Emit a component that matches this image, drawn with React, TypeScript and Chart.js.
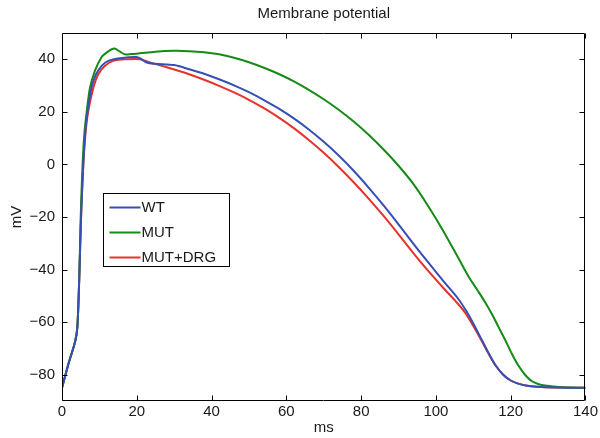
import React, { useEffect, useRef } from 'react';
import { Chart, registerables } from 'chart.js';

Chart.register(...registerables);

const chartTitle = 'Membrane potential';
const xAxisTitle = 'ms';
const yAxisTitle = 'mV';
const xTicks = [0, 20, 40, 60, 80, 100, 120, 140];
const yTicks = [-80, -60, -40, -20, 0, 20, 40];
const seriesNames = ['WT', 'MUT', 'MUT+DRG'];
const seriesColors = ['#3450b4', '#168a17', '#e6322a'];

const wtX = [0, 1.7, 3.5, 4.1, 4.6, 5.1, 5.7, 6.2, 6.8, 7.9, 9.1, 10.6, 12.4, 15.5, 19.9, 21.3, 22.6, 25, 30, 34, 38, 42, 46, 50, 54, 58, 62, 66, 70, 74, 78, 82, 86, 90, 94, 98, 102, 106, 108, 110, 112, 114, 116, 118, 120, 122, 124, 127, 132, 140];
const wtY = [-85, -76, -67.5, -62, -44, -20, 0, 12, 20, 29.3, 34.3, 37.5, 39.4, 40.4, 40.9, 40, 38.8, 38.3, 37.8, 36.2, 34.5, 32.4, 30.1, 27.5, 24.5, 21.2, 17.5, 13.3, 8.6, 3.4, -2.4, -8.8, -15.6, -22.8, -30.2, -37.4, -44.4, -51.2, -55.5, -60.5, -66, -71.5, -76.5, -80, -82.2, -83.4, -84.1, -84.6, -84.9, -85];

const mutX = [0, 1.7, 3.5, 4.1, 4.6, 5.0, 5.5, 6.0, 6.6, 7.5, 8.8, 10.6, 11.9, 13, 14.1, 15.5, 16.8, 18.5, 20.8, 25, 30, 34, 38, 42, 46, 50, 54, 58, 62, 66, 70, 74, 78, 82, 86, 90, 94, 98, 102, 106, 108.8, 111, 113.2, 115, 116.8, 118.6, 120.3, 122.1, 124, 125.7, 127.5, 129.2, 133, 140];
const mutY = [-85, -76, -67.5, -62, -44, -20, 0, 12, 20, 29.3, 35.6, 40.9, 42.5, 43.6, 44.1, 42.9, 41.9, 42, 42.3, 42.9, 43.2, 43.1, 42.7, 41.9, 40.6, 38.9, 36.8, 34.4, 31.6, 28.4, 24.8, 20.8, 16.3, 11.3, 5.7, -0.5, -7.5, -16, -25.4, -35.6, -42.8, -47.6, -52.5, -57, -62, -67, -72, -76.6, -80.3, -82.5, -83.6, -84.1, -84.7, -85];

const drgX = [0, 1.7, 3.5, 4.1, 4.6, 5.1, 5.7, 6.3, 7.0, 8.4, 9.7, 11.5, 13.7, 17.3, 20.8, 23.5, 26.5, 30, 34, 38, 42, 46, 50, 54, 58, 62, 66, 70, 74, 78, 82, 86, 90, 94, 98, 102, 106, 108, 110, 112, 114, 116, 118, 120, 122, 124, 127, 132, 140];
const drgY = [-85, -76, -67.5, -62, -44, -20, 0, 12, 20, 29.3, 34.3, 37.5, 39.4, 40, 40, 38.8, 37.6, 36.1, 34.3, 32.2, 29.9, 27.4, 24.6, 21.4, 17.8, 13.8, 9.3, 4.4, -1, -6.8, -13, -19.6, -26.6, -33.8, -40.6, -47, -53.2, -56.8, -61.5, -66.5, -71.8, -76.6, -80, -82.2, -83.4, -84.1, -84.6, -84.9, -85];

const seriesX = [wtX, mutX, drgX];
const seriesY = [wtY, mutY, drgY];

const FONT = "'Liberation Sans', Arial, Helvetica, sans-serif";
const TEXT = '#1a1a1a';
const FS = 15;

const decoPlugin = {
  id: 'deco',
  afterDraw(chart: any) {
    const { ctx, chartArea: a, scales } = chart;
    const xs = scales.x;
    const ys = scales.y;
    ctx.save();
    ctx.strokeStyle = '#000';
    ctx.lineWidth = 1;
    const L = Math.round(a.left) + 0.5;
    const R = Math.round(a.right) - 0.5;
    const T = Math.round(a.top) + 0.5;
    const B = Math.round(a.bottom) - 0.5;
    ctx.beginPath();
    ctx.rect(L, T, R - L, B - T);
    ctx.stroke();
    const tl = 5;
    ctx.beginPath();
    xTicks.forEach((v) => {
      const p = Math.round(xs.getPixelForValue(v)) + 0.5;
      ctx.moveTo(p, B);
      ctx.lineTo(p, B - tl);
      ctx.moveTo(p, T);
      ctx.lineTo(p, T + tl);
    });
    yTicks.forEach((v) => {
      const p = Math.round(ys.getPixelForValue(v)) + 0.5;
      ctx.moveTo(L, p);
      ctx.lineTo(L + tl, p);
      ctx.moveTo(R, p);
      ctx.lineTo(R - tl, p);
    });
    ctx.stroke();

    // titles
    ctx.fillStyle = TEXT;
    ctx.font = `${FS}px ${FONT}`;
    ctx.textAlign = 'center';
    ctx.textBaseline = 'middle';
    const cx = (a.left + a.right) / 2;
    ctx.fillText(chartTitle, cx, 14);
    ctx.fillText(xAxisTitle, cx, 428);
    ctx.save();
    ctx.translate(17, (a.top + a.bottom) / 2);
    ctx.rotate(-Math.PI / 2);
    ctx.fillText(yAxisTitle, 0, 0);
    ctx.restore();

    // legend
    const bx = Math.round(a.left) + 41 + 0.5;
    const by = Math.round(a.top) + 160 + 0.5;
    const bw = 126;
    const bh = 73;
    ctx.fillStyle = '#fff';
    ctx.fillRect(bx, by, bw, bh);
    ctx.strokeStyle = '#000';
    ctx.lineWidth = 1;
    ctx.strokeRect(bx, by, bw, bh);
    ctx.textAlign = 'left';
    seriesNames.forEach((name, i) => {
      const yy = by + 14 + i * 25;
      ctx.strokeStyle = seriesColors[i];
      ctx.lineWidth = 2;
      ctx.beginPath();
      ctx.moveTo(bx + 6, yy);
      ctx.lineTo(bx + 37, yy);
      ctx.stroke();
      ctx.fillStyle = TEXT;
      ctx.fillText(name, bx + 38, yy);
    });
    ctx.restore();
  },
};

export default function App() {
  const ref = useRef<HTMLCanvasElement>(null);
  useEffect(() => {
    if (!ref.current) return;
    const chart = new Chart(ref.current, {
      type: 'line',
      data: {
        datasets: seriesNames.map((name, i) => ({
          label: name,
          data: seriesX[i].map((x, j) => ({ x, y: seriesY[i][j] })),
          borderColor: seriesColors[i],
          backgroundColor: seriesColors[i],
          borderWidth: 2,
          pointRadius: 0,
          fill: false,
          tension: 0.3,
        })),
      },
      options: {
        responsive: false,
        animation: false,
        layout: { padding: { top: 33, right: 13, left: 0, bottom: 0 } },
        plugins: {
          legend: { display: false },
          title: { display: false },
          tooltip: { enabled: false },
        },
        scales: {
          x: {
            type: 'linear',
            min: 0,
            max: 140,
            grid: { display: false, drawTicks: false },
            border: { display: false },
            afterBuildTicks: (s: any) => {
              s.ticks = xTicks.map((v) => ({ value: v }));
            },
            afterFit: (s: any) => {
              s.height = 37;
            },
            ticks: {
              padding: 2,
              autoSkip: false,
              maxRotation: 0,
              color: TEXT,
              font: { family: FONT, size: FS },
              callback: (v: any) => String(v).replace('-', '\u2212'),
            },
          },
          y: {
            type: 'linear',
            min: -90,
            max: 50,
            grid: { display: false, drawTicks: false },
            border: { display: false },
            afterBuildTicks: (s: any) => {
              s.ticks = yTicks.map((v) => ({ value: v }));
            },
            afterFit: (s: any) => {
              s.width = 62;
            },
            ticks: {
              padding: 7,
              autoSkip: false,
              color: TEXT,
              font: { family: FONT, size: FS },
              callback: (v: any) => String(v).replace('-', '\u2212'),
            },
          },
        },
      },
      plugins: [decoPlugin],
    });
    return () => chart.destroy();
  }, []);
  return (
    <div style={{ position: 'fixed', left: 0, top: 0, width: 600, height: 438, background: '#fff' }}>
      <canvas ref={ref} width={600} height={438} style={{ display: 'block' }} />
    </div>
  );
}
